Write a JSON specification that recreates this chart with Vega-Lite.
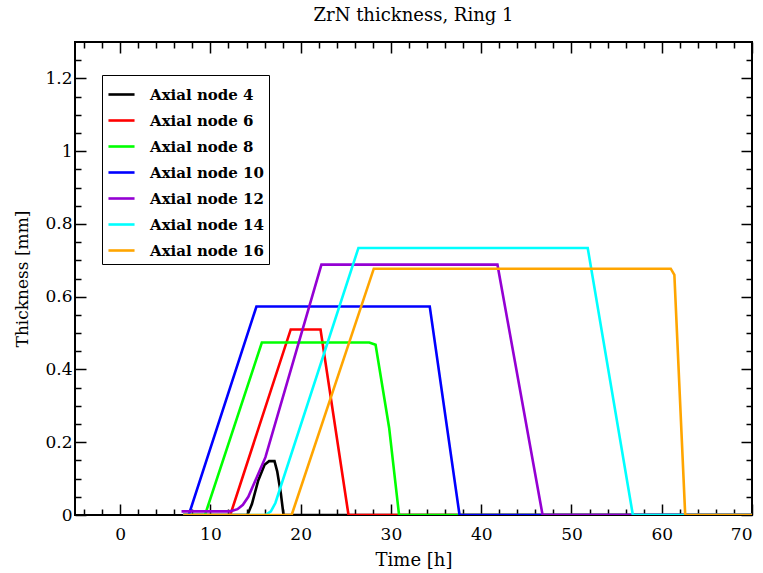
{
  "$schema": "https://vega.github.io/schema/vega-lite/v6.json",
  "width": 677,
  "height": 473,
  "autosize": {"type": "none"},
  "padding": {"left": 75, "top": 42, "right": 11, "bottom": 58},
  "background": "white",
  "title": {"text": "ZrN thickness, Ring 1", "font": "DejaVu Serif", "fontSize": 18, "fontWeight": "normal", "offset": 16, "anchor": "middle", "color": "black"},
  "config": {"view": {"stroke": "black", "strokeWidth": 2}, "font": "DejaVu Serif", "title": {"fontSize": 18, "font": "DejaVu Serif", "fontWeight": "normal"}},
  "data": {"values": [
    {"node": "Axial node 4", "t": 7, "v": 0},
    {"node": "Axial node 4", "t": 14.1, "v": 0},
    {"node": "Axial node 4", "t": 14.6, "v": 0.03},
    {"node": "Axial node 4", "t": 15.3, "v": 0.095},
    {"node": "Axial node 4", "t": 16.0, "v": 0.138},
    {"node": "Axial node 4", "t": 16.5, "v": 0.148},
    {"node": "Axial node 4", "t": 17.1, "v": 0.148},
    {"node": "Axial node 4", "t": 17.4, "v": 0.12},
    {"node": "Axial node 4", "t": 17.8, "v": 0.06},
    {"node": "Axial node 4", "t": 18.1, "v": 0},
    {"node": "Axial node 4", "t": 70, "v": 0},
    {"node": "Axial node 6", "t": 7, "v": 0},
    {"node": "Axial node 6", "t": 12.2, "v": 0},
    {"node": "Axial node 6", "t": 18.9, "v": 0.51},
    {"node": "Axial node 6", "t": 22.2, "v": 0.51},
    {"node": "Axial node 6", "t": 25.3, "v": 0},
    {"node": "Axial node 6", "t": 70, "v": 0},
    {"node": "Axial node 8", "t": 7, "v": 0},
    {"node": "Axial node 8", "t": 9.4, "v": 0},
    {"node": "Axial node 8", "t": 15.7, "v": 0.474},
    {"node": "Axial node 8", "t": 27.6, "v": 0.474},
    {"node": "Axial node 8", "t": 28.3, "v": 0.468},
    {"node": "Axial node 8", "t": 29.8, "v": 0.24},
    {"node": "Axial node 8", "t": 30.9, "v": 0},
    {"node": "Axial node 8", "t": 70, "v": 0},
    {"node": "Axial node 10", "t": 7, "v": 0},
    {"node": "Axial node 10", "t": 7.6, "v": 0},
    {"node": "Axial node 10", "t": 15.1, "v": 0.573},
    {"node": "Axial node 10", "t": 34.3, "v": 0.573},
    {"node": "Axial node 10", "t": 37.6, "v": 0},
    {"node": "Axial node 10", "t": 70, "v": 0},
    {"node": "Axial node 12", "t": 6.8, "v": 0.01},
    {"node": "Axial node 12", "t": 12.2, "v": 0.01},
    {"node": "Axial node 12", "t": 13.0, "v": 0.016},
    {"node": "Axial node 12", "t": 13.6, "v": 0.028},
    {"node": "Axial node 12", "t": 14.2, "v": 0.05},
    {"node": "Axial node 12", "t": 16.1, "v": 0.159},
    {"node": "Axial node 12", "t": 22.3, "v": 0.688},
    {"node": "Axial node 12", "t": 41.8, "v": 0.688},
    {"node": "Axial node 12", "t": 46.8, "v": 0},
    {"node": "Axial node 12", "t": 70, "v": 0},
    {"node": "Axial node 14", "t": 7, "v": 0},
    {"node": "Axial node 14", "t": 16.1, "v": 0},
    {"node": "Axial node 14", "t": 16.7, "v": 0.01},
    {"node": "Axial node 14", "t": 17.2, "v": 0.033},
    {"node": "Axial node 14", "t": 26.4, "v": 0.734},
    {"node": "Axial node 14", "t": 51.8, "v": 0.734},
    {"node": "Axial node 14", "t": 56.8, "v": 0},
    {"node": "Axial node 14", "t": 70, "v": 0},
    {"node": "Axial node 16", "t": 7, "v": 0},
    {"node": "Axial node 16", "t": 19.0, "v": 0},
    {"node": "Axial node 16", "t": 28.1, "v": 0.677},
    {"node": "Axial node 16", "t": 61.0, "v": 0.677},
    {"node": "Axial node 16", "t": 61.4, "v": 0.66},
    {"node": "Axial node 16", "t": 62.6, "v": 0},
    {"node": "Axial node 16", "t": 70, "v": 0}
  ]},
  "layer": [
    {
      "mark": {"type": "line", "strokeWidth": 2.6, "clip": true},
      "encoding": {
        "x": {
          "field": "t", "type": "quantitative",
          "scale": {"domain": [-5, 70], "nice": false, "zero": false},
          "axis": {
            "orient": "bottom", "title": "Time [h]", "grid": false, "domain": false,
            "values": [-4,-2,0,2,4,6,8,10,12,14,16,18,20,22,24,26,28,30,32,34,36,38,40,42,44,46,48,50,52,54,56,58,60,62,64,66,68,70],
            "labelExpr": "round(datum.value) % 10 === 0 ? format(datum.value, '~g') : ''",
            "tickSize": {"condition": {"test": "round(datum.value) % 10 === 0", "value": -11}, "value": -6},
            "tickColor": "black", "tickWidth": 1.5,
            "labelFont": "DejaVu Serif", "labelFontSize": 17, "labelColor": "black", "labelPadding": 22,
            "titleFont": "DejaVu Serif", "titleFontSize": 18, "titleFontWeight": "normal", "titleColor": "black", "titlePadding": 9
          }
        },
        "y": {
          "field": "v", "type": "quantitative",
          "scale": {"domain": [0, 1.3], "nice": false, "zero": false},
          "axis": {
            "orient": "left", "title": "Thickness [mm]", "grid": false, "domain": false,
            "values": [0,0.05,0.1,0.15,0.2,0.25,0.3,0.35,0.4,0.45,0.5,0.55,0.6,0.65,0.7,0.75,0.8,0.85,0.9,0.95,1,1.05,1.1,1.15,1.2,1.25],
            "labelExpr": "round(datum.value*20) % 4 === 0 ? format(datum.value, '~g') : ''",
            "tickSize": {"condition": {"test": "round(datum.value*20) % 4 === 0", "value": -11}, "value": -6},
            "tickColor": "black", "tickWidth": 1.5,
            "labelFont": "DejaVu Serif", "labelFontSize": 17, "labelColor": "black", "labelPadding": 14,
            "titleFont": "DejaVu Serif", "titleFontSize": 17, "titleFontWeight": "normal", "titleColor": "black", "titlePadding": 13
          }
        },
        "color": {
          "field": "node", "type": "nominal",
          "scale": {
            "domain": ["Axial node 4", "Axial node 6", "Axial node 8", "Axial node 10", "Axial node 12", "Axial node 14", "Axial node 16"],
            "range": ["#000000", "#ff0000", "#00ff00", "#0000ff", "#9400d3", "#00ffff", "#ffa500"]
          },
          "legend": {
            "orient": "none", "legendX": 27, "legendY": 33, "title": null,
            "strokeColor": "black", "fillColor": "white", "padding": 5,
            "symbolType": "stroke", "symbolStrokeWidth": 2.6, "symbolSize": 680,
            "labelFont": "DejaVu Serif", "labelFontWeight": "bold", "labelFontSize": 15, "labelColor": "black",
            "labelOffset": 14, "rowPadding": 3
          }
        }
      }
    },
    {
      "mark": {"type": "point", "opacity": 0},
      "encoding": {
        "x": {
          "field": "t", "type": "quantitative",
          "axis": {
            "orient": "top", "title": null, "grid": false, "domain": false, "labels": false,
            "values": [-4,-2,0,2,4,6,8,10,12,14,16,18,20,22,24,26,28,30,32,34,36,38,40,42,44,46,48,50,52,54,56,58,60,62,64,66,68,70],
            "tickSize": {"condition": {"test": "round(datum.value) % 10 === 0", "value": -11}, "value": -6},
            "tickColor": "black", "tickWidth": 1.5
          }
        },
        "y": {
          "field": "v", "type": "quantitative",
          "axis": {
            "orient": "right", "title": null, "grid": false, "domain": false, "labels": false,
            "values": [0,0.05,0.1,0.15,0.2,0.25,0.3,0.35,0.4,0.45,0.5,0.55,0.6,0.65,0.7,0.75,0.8,0.85,0.9,0.95,1,1.05,1.1,1.15,1.2,1.25],
            "tickSize": {"condition": {"test": "round(datum.value*20) % 4 === 0", "value": -11}, "value": -6},
            "tickColor": "black", "tickWidth": 1.5
          }
        }
      }
    }
  ]
}
